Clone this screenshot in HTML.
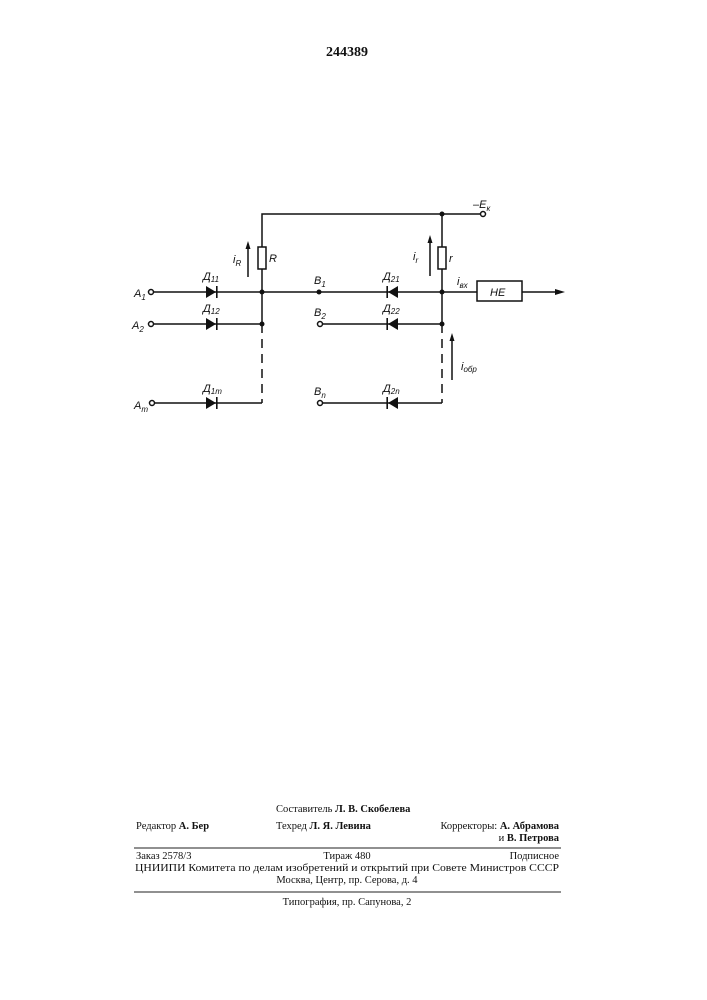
<!DOCTYPE html>
<html><head><meta charset="utf-8"><style>
body{margin:0;background:#fff;}
svg{display:block}
text{font-family:"Liberation Serif",serif;fill:#111}
.it text{font-family:"Liberation Sans",sans-serif;font-style:italic;font-size:11px}
.f text{font-size:10.5px}
</style></head><body>
<svg width="707" height="1000" viewBox="0 0 707 1000" xmlns="http://www.w3.org/2000/svg">
<text x="347" y="56" text-anchor="middle" font-weight="bold" font-size="14">244389</text>
<g stroke="#111" stroke-width="1.5" fill="none">
<polyline points="262,247 262,214 480,214"/>
<line x1="442" y1="214" x2="442" y2="247"/>
<rect x="258" y="247" width="8" height="22"/>
<rect x="438" y="247" width="8" height="22"/>
<line x1="262" y1="269" x2="262" y2="324"/>
<line x1="442" y1="269" x2="442" y2="324"/>
<line x1="154" y1="292" x2="477" y2="292"/>
<rect x="477" y="281" width="45" height="20"/>
<line x1="522" y1="292" x2="558" y2="292"/>
<line x1="154" y1="324" x2="262" y2="324"/>
<line x1="323" y1="324" x2="442" y2="324"/>
<line x1="155" y1="403" x2="262" y2="403"/>
<line x1="323" y1="403" x2="442" y2="403"/>
<line x1="262" y1="324" x2="262" y2="403" stroke-dasharray="9,6"/>
<line x1="442" y1="324" x2="442" y2="403" stroke-dasharray="9,6"/>
<circle cx="151" cy="292" r="2.5" fill="#fff"/>
<circle cx="151" cy="324" r="2.5" fill="#fff"/>
<circle cx="152" cy="403" r="2.5" fill="#fff"/>
<circle cx="320" cy="324" r="2.5" fill="#fff"/>
<circle cx="320" cy="403" r="2.5" fill="#fff"/>
<circle cx="483" cy="214" r="2.5" fill="#fff"/>
<line x1="248" y1="277" x2="248" y2="246"/>
<line x1="430" y1="276" x2="430" y2="240"/>
<line x1="452" y1="380" x2="452" y2="338"/>
</g>
<g fill="#111">
<circle cx="262" cy="292" r="2.5"/><circle cx="262" cy="324" r="2.5"/>
<circle cx="442" cy="214" r="2.5"/><circle cx="442" cy="292" r="2.5"/><circle cx="442" cy="324" r="2.5"/>
<circle cx="319" cy="292" r="2.5"/>
<polygon points="565,292 555,289 555,295"/>
<polygon points="248,241 245.5,249 250.5,249"/>
<polygon points="430,235 427.5,243 432.5,243"/>
<polygon points="452,333 449.5,341 454.5,341"/>
<polygon points="206,286 206,298 216,292"/><rect x="216" y="286" width="1.6" height="12"/>
<polygon points="206,318 206,330 216,324"/><rect x="216" y="318" width="1.6" height="12"/>
<polygon points="206,397 206,409 216,403"/><rect x="216" y="397" width="1.6" height="12"/>
<polygon points="398,286 398,298 388,292"/><rect x="386.4" y="286" width="1.6" height="12"/>
<polygon points="398,318 398,330 388,324"/><rect x="386.4" y="318" width="1.6" height="12"/>
<polygon points="398,397 398,409 388,403"/><rect x="386.4" y="397" width="1.6" height="12"/>
</g>
<g class="it">
<text x="134" y="297">A<tspan font-size="8" dy="3">1</tspan></text>
<text x="132" y="329">A<tspan font-size="8" dy="3">2</tspan></text>
<text x="134" y="409">A<tspan font-size="8" dy="3">m</tspan></text>
<text x="203" y="280">Д<tspan font-size="8" dy="2">11</tspan></text>
<text x="203" y="312">Д<tspan font-size="8" dy="2">12</tspan></text>
<text x="203" y="392">Д<tspan font-size="8" dy="2">1m</tspan></text>
<text x="383" y="280">Д<tspan font-size="8" dy="2">21</tspan></text>
<text x="383" y="312">Д<tspan font-size="8" dy="2">22</tspan></text>
<text x="383" y="392">Д<tspan font-size="8" dy="2">2n</tspan></text>
<text x="314" y="284">B<tspan font-size="8" dy="3">1</tspan></text>
<text x="314" y="316">B<tspan font-size="8" dy="3">2</tspan></text>
<text x="314" y="395">B<tspan font-size="8" dy="3">n</tspan></text>
<text x="269" y="262">R</text>
<text x="449" y="262">r</text>
<text x="233" y="263">i<tspan font-size="8" dy="3">R</tspan></text>
<text x="413" y="260">i<tspan font-size="8" dy="3">r</tspan></text>
<text x="457" y="285">i<tspan font-size="8" dy="3">вх</tspan></text>
<text x="461" y="370">i<tspan font-size="8" dy="2">обр</tspan></text>
<text x="473" y="208">–E<tspan font-size="8" dy="3">к</tspan></text>
<text x="490" y="296">НЕ</text>
</g>
<g class="f">
<text x="276" y="812">Составитель <tspan font-weight="bold">Л. В. Скобелева</tspan></text>
<text x="136" y="829">Редактор <tspan font-weight="bold">А. Бер</tspan></text>
<text x="276" y="829">Техред <tspan font-weight="bold">Л. Я. Левина</tspan></text>
<text x="559" y="829" text-anchor="end">Корректоры: <tspan font-weight="bold">А. Абрамова</tspan></text>
<text x="559" y="841" text-anchor="end">и <tspan font-weight="bold">В. Петрова</tspan></text>
<text x="136" y="859">Заказ 2578/3</text>
<text x="347" y="859" text-anchor="middle">Тираж 480</text>
<text x="559" y="859" text-anchor="end">Подписное</text>
<text x="347" y="871" text-anchor="middle" textLength="424" lengthAdjust="spacingAndGlyphs">ЦНИИПИ Комитета по делам изобретений и открытий при Совете Министров СССР</text>
<text x="347" y="883" text-anchor="middle">Москва, Центр, пр. Серова, д. 4</text>
<text x="347" y="905" text-anchor="middle">Типография, пр. Сапунова, 2</text>
</g>
<line x1="134" y1="848" x2="561" y2="848" stroke="#222" stroke-width="1"/>
<line x1="134" y1="892" x2="561" y2="892" stroke="#222" stroke-width="1"/>
</svg>
</body></html>
